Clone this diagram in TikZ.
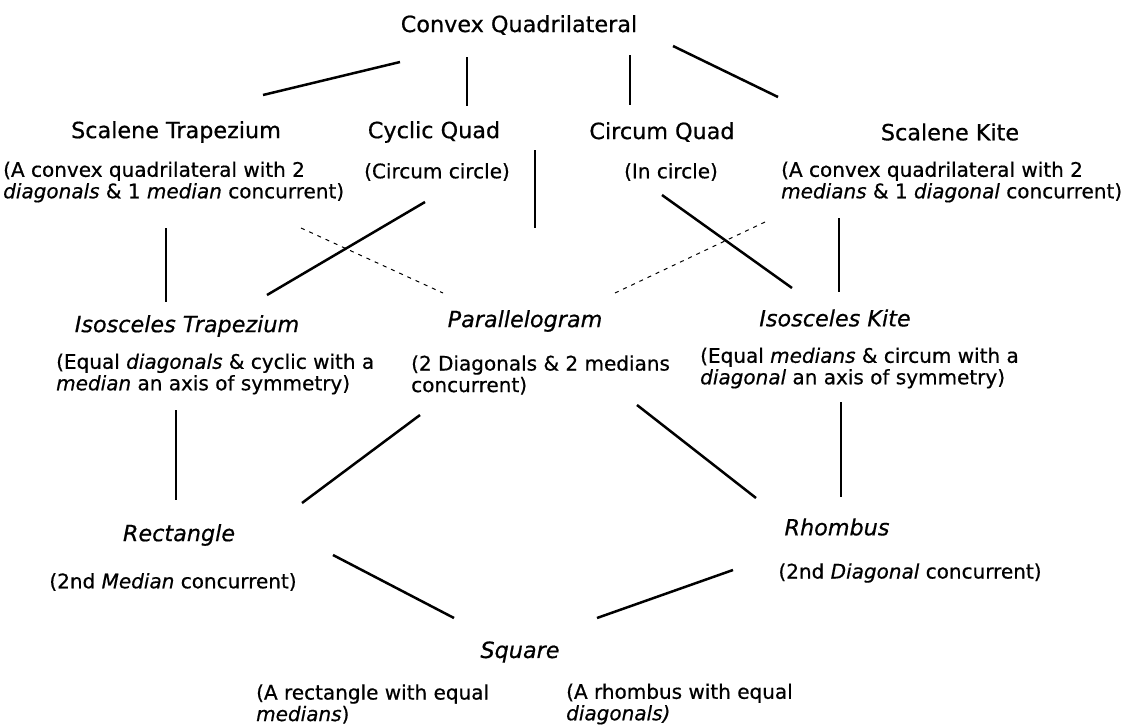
\documentclass[tikz,border=0pt]{standalone}
\usepackage{fontspec}
\setmainfont{DejaVu Sans}[
  BoldFont={DejaVu Sans}, BoldFeatures={FakeBold=0.6},
  BoldItalicFont={DejaVu Sans Oblique}, BoldItalicFeatures={FakeBold=0.6}]
\begin{document}
\begin{tikzpicture}[x=1pt,y=-1pt,
  hd/.style={font=\fontsize{22.3}{26}\selectfont\bfseries, inner sep=0pt},
  hdi/.style={font=\fontsize{22.3}{26}\selectfont\bfseries\itshape, inner sep=0pt},
  sub/.style={font=\fontsize{20}{21.5}\selectfont\bfseries, inner sep=0pt, align=left, anchor=west},
  subc/.style={font=\fontsize{20}{21.5}\selectfont\bfseries, inner sep=0pt},
  ln/.style={line width=2.5pt},
  dl/.style={line width=1pt, dash pattern=on 4pt off 5pt}]
\useasboundingbox (0,0) rectangle (1130,726);

% headers
\node[hd] (title) at (519,25) {Convex Quadrilateral};
\node[hd] (strap) at (176,132) {Scalene Trapezium};
\node[hd] (cyc) at (434,132) {Cyclic Quad};
\node[hd] (circ) at (662,132) {Circum Quad};
\node[hd] (skite) at (950,132) {Scalene Kite};
\node[hdi] (itrap) at (187,326) {Isosceles Trapezium};
\node[hdi] (para) at (525,321) {Parallelogram};
\node[hdi] (ikite) at (835,318) {Isosceles Kite};
\node[hdi] (rect) at (179,535) {Rectangle};
\node[hdi] (rhom) at (837,527) {Rhombus};
\node[hdi] (sq) at (520,652) {Square};

% descriptions
\node[sub] (strapd) at (3,182) {(A convex quadrilateral with 2\\\textit{diagonals} \& 1 \textit{median} concurrent)};
\node[subc] (cycd) at (437,172) {(Circum circle)};
\node[subc] (circd) at (671,172) {(In circle)};
\node[sub] (skited) at (781,182) {(A convex quadrilateral with 2\\\textit{medians} \& 1 \textit{diagonal} concurrent)};
\node[sub] (itrapd) at (56,374) {(Equal \textit{diagonals} \& cyclic with a\\\textit{median} an axis of symmetry)};
\node[sub] (parad) at (411,375) {(2 Diagonals \& 2 medians\\concurrent)};
\node[sub] (ikited) at (700,368) {(Equal \textit{medians} \& circum with a\\\textit{diagonal} an axis of symmetry)};
\node[subc] (rectd) at (173,582) {(2nd \textit{Median} concurrent)};
\node[subc] (rhomd) at (910,573) {(2nd \textit{Diagonal} concurrent)};
\node[sub] (sqd1) at (256,704) {(A rectangle with equal\\\textit{medians})};
\node[sub] (sqd2) at (566,704) {(A rhombus with equal\\\textit{diagonals)}};

% connector end points
\coordinate (a1) at (400,62);  \coordinate (a2) at (263,95);
\coordinate (b1) at (467,57);  \coordinate (b2) at (467,106);
\coordinate (c1) at (630,55);  \coordinate (c2) at (630,105);
\coordinate (d1) at (673,46);  \coordinate (d2) at (778,97);
\coordinate (e1) at (166,228); \coordinate (e2) at (166,302);
\coordinate (f1) at (425,202); \coordinate (f2) at (267,295);
\coordinate (g1) at (535,150); \coordinate (g2) at (535,228);
\coordinate (h1) at (301,228); \coordinate (h2) at (443,293);
\coordinate (i1) at (662,195); \coordinate (i2) at (792,288);
\coordinate (j1) at (765,222); \coordinate (j2) at (615,293);
\coordinate (k1) at (839,218); \coordinate (k2) at (839,292);
\coordinate (l1) at (176,410); \coordinate (l2) at (176,500);
\coordinate (m1) at (420,415); \coordinate (m2) at (302,503);
\coordinate (n1) at (637,405); \coordinate (n2) at (756,498);
\coordinate (o1) at (841,402); \coordinate (o2) at (841,497);
\coordinate (p1) at (333,555); \coordinate (p2) at (454,618);
\coordinate (q1) at (733,570); \coordinate (q2) at (597,618);

\draw[ln] (a1) -- (a2);
\draw[ln] (b1) -- (b2);
\draw[ln] (c1) -- (c2);
\draw[ln] (d1) -- (d2);
\draw[ln] (e1) -- (e2);
\draw[ln] (f1) -- (f2);
\draw[ln] (g1) -- (g2);
\draw[dl] (h1) -- (h2);
\draw[ln] (i1) -- (i2);
\draw[dl] (j1) -- (j2);
\draw[ln] (k1) -- (k2);
\draw[ln] (l1) -- (l2);
\draw[ln] (m1) -- (m2);
\draw[ln] (n1) -- (n2);
\draw[ln] (o1) -- (o2);
\draw[ln] (p1) -- (p2);
\draw[ln] (q1) -- (q2);
\end{tikzpicture}
\end{document}
